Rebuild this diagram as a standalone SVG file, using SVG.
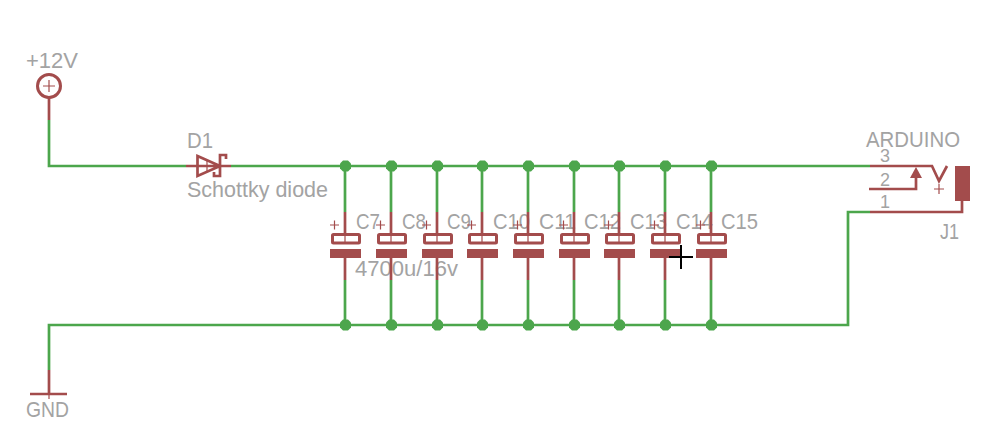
<svg xmlns="http://www.w3.org/2000/svg" width="999" height="443" viewBox="0 0 999 443">
<style>
text{font-family:"Liberation Sans",Arial,sans-serif;font-size:22px;fill:#a3a3a3}
.n{font-size:18px}
.w{fill:none;stroke:#4ca64c;stroke-width:2.700}
.s{fill:none;stroke:#a34c4c;stroke-width:2.700}
.r{fill:none;stroke:#a34c4c;stroke-width:3}
.t{fill:none;stroke:#a34c4c;stroke-width:1.200}
.f{fill:#a34c4c}
.j{fill:#4ca64c}
</style>
<defs>
<g id="cap">
<path class="s" d="M0 12V33M0 58V80"/>
<rect class="r" x="-12.500" y="34.500" width="27" height="8.500" rx="1"/>
<rect class="f" x="-15" y="49" width="31" height="9"/>
<path class="t" d="M-15 25H-6M-10.500 20.500V29.500M0 34V43"/>
</g>
<path id="d" d="M-2.500 -5.500H2.500L5.500 -2.500V2.500L2.500 5.500H-2.500L-5.500 2.500V-2.500Z"/>
</defs>
<g id="connectors">
<path class="w" d="M49 120V166H186M231 166H870M49 370V325H848V212H870"/>
<path class="w" d="M345 166V212M391 166V212M437 166V212M482 166V212M528 166V212M574 166V212M619 166V212M665 166V212M711 166V212"/>
<path class="w" d="M345 280V325M391 280V325M437 280V325M482 280V325M528 280V325M574 280V325M619 280V325M665 280V325M711 280V325"/>
<g class="j">
<use href="#d" x="345.500" y="166"/><use href="#d" x="391.500" y="166"/><use href="#d" x="437.500" y="166"/><use href="#d" x="482.500" y="166"/><use href="#d" x="528.500" y="166"/><use href="#d" x="574.500" y="166"/><use href="#d" x="619.500" y="166"/><use href="#d" x="665.500" y="166"/><use href="#d" x="711.500" y="166"/>
<use href="#d" x="345.500" y="325"/><use href="#d" x="391.500" y="325"/><use href="#d" x="437.500" y="325"/><use href="#d" x="482.500" y="325"/><use href="#d" x="528.500" y="325"/><use href="#d" x="574.500" y="325"/><use href="#d" x="619.500" y="325"/><use href="#d" x="665.500" y="325"/><use href="#d" x="711.500" y="325"/>
</g>
</g>
<g id="P12V">
<text x="26" y="68" textLength="52" lengthAdjust="spacingAndGlyphs">+12V</text>
<circle class="r" cx="49" cy="86" r="11.500"/>
<path class="s" d="M49 98V120"/>
<path class="t" d="M43 86H55M49 80V92"/>
</g>
<g id="D1">
<text x="187" y="148" textLength="26" lengthAdjust="spacingAndGlyphs">D1</text>
<text x="187" y="197" textLength="141" lengthAdjust="spacingAndGlyphs">Schottky diode</text>
<path class="s" d="M186 166H231M197.500 156L220 166L197.500 176ZM226 159V155H220V176H214V172"/>
<path class="t" d="M207 161V171"/>
</g>
<g id="C7"><use href="#cap" x="345" y="200"/><text x="356" y="229" textLength="24" lengthAdjust="spacingAndGlyphs">C7</text><text x="355" y="276" textLength="103" lengthAdjust="spacingAndGlyphs">4700u/16v</text></g>
<g id="C8"><use href="#cap" x="391" y="200"/><text x="402" y="229" textLength="24" lengthAdjust="spacingAndGlyphs">C8</text></g>
<g id="C9"><use href="#cap" x="437" y="200"/><text x="447" y="229" textLength="24" lengthAdjust="spacingAndGlyphs">C9</text></g>
<g id="C10"><use href="#cap" x="482" y="200"/><text x="493" y="229" textLength="37" lengthAdjust="spacingAndGlyphs">C10</text></g>
<g id="C11"><use href="#cap" x="528" y="200"/><text x="539" y="229" textLength="37" lengthAdjust="spacingAndGlyphs">C11</text></g>
<g id="C12"><use href="#cap" x="574" y="200"/><text x="584" y="229" textLength="37" lengthAdjust="spacingAndGlyphs">C12</text></g>
<g id="C13"><use href="#cap" x="619" y="200"/><text x="630" y="229" textLength="37" lengthAdjust="spacingAndGlyphs">C13</text></g>
<g id="C14"><use href="#cap" x="665" y="200"/><text x="676" y="229" textLength="37" lengthAdjust="spacingAndGlyphs">C14</text></g>
<g id="C15"><use href="#cap" x="711" y="200"/><text x="721" y="229" textLength="37" lengthAdjust="spacingAndGlyphs">C15</text></g>
<path id="cursor" d="M669 257H693M681 245V269" fill="none" stroke="#000" stroke-width="2"/>
<g id="J1">
<text x="866" y="147" textLength="94" lengthAdjust="spacingAndGlyphs">ARDUINO</text>
<text x="880" y="162" class="n">3</text>
<text x="880" y="186" class="n">2</text>
<text x="880" y="208" class="n">1</text>
<text x="940" y="239" textLength="19" lengthAdjust="spacingAndGlyphs">J1</text>
<path class="s" d="M870 166H932L939 181L947 166M869 189H916V172M870 212H962V200"/>
<path class="f" d="M916 167L910 178H922Z"/>
<path class="t" d="M934 189H944M939 184V194"/>
<rect class="f" x="955" y="166" width="15" height="35"/>
</g>
<g id="GND">
<path class="s" d="M49 370V394M30 394H67"/>
<path class="t" d="M49 394V399"/>
<text x="26" y="417" textLength="43" lengthAdjust="spacingAndGlyphs">GND</text>
</g>
</svg>
